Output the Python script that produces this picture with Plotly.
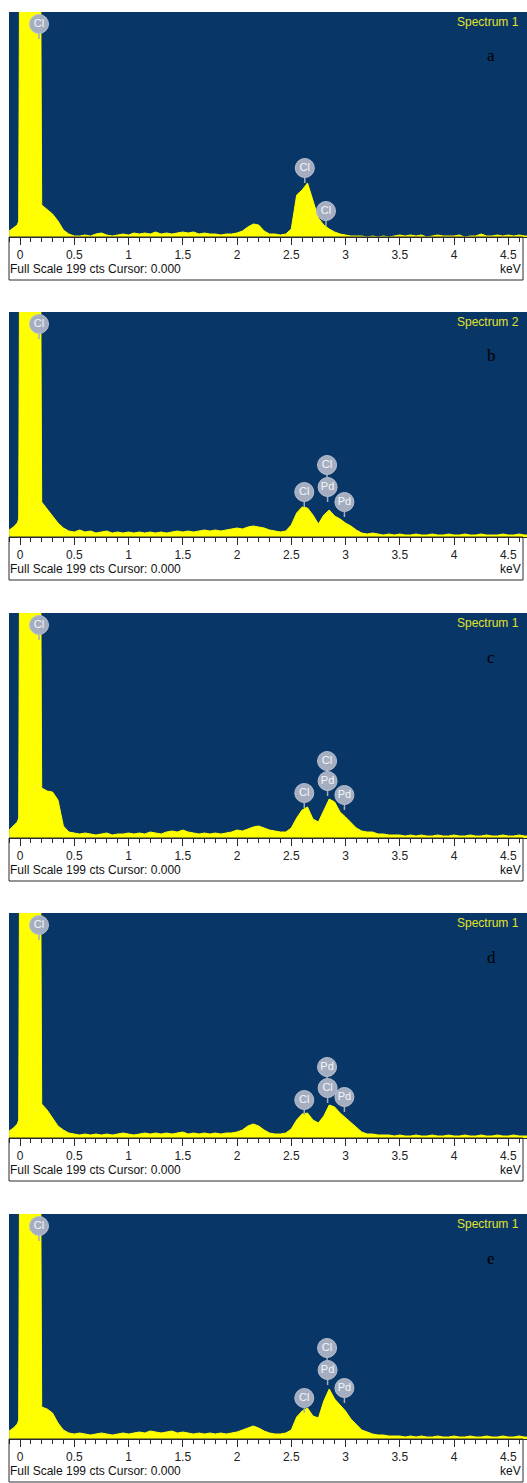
import plotly.graph_objects as go

# channel energies (keV): fine steps around the saturated low-energy peak, then 0.05 keV
energy_kev = [-0.1, -0.06, -0.025, -0.012, 0.0, 0.05, 0.1, 0.15, 0.185] + \
    [round(0.2 + 0.05 * i, 3) for i in range(91)]

counts_a = [6, 9, 12, 16, 400, 400, 400, 400, 400,
            32, 27, 23, 16, 7, 3, 1, 1, 2, 1, 3,
            4, 2, 1, 2, 3, 2, 4, 3, 4, 3,
            5, 3, 4, 3, 4, 5, 4, 5, 3, 4,
            3, 3, 2, 3, 3, 4, 6, 10, 13, 12,
            6, 3, 3, 2, 3, 8, 42, 47, 54, 36,
            19, 12, 8, 5, 3, 2, 1, 1, 1, 0,
            1, 0, 1, 0, 1, 2, 1, 2, 1, 2,
            0, 1, 2, 1, 1, 1, 2, 0, 1, 1,
            3, 1, 1, 2, 1, 2, 1, 2, 1, 1]

counts_b = [7, 10, 14, 18, 400, 400, 400, 400, 400,
            35, 28, 22, 14, 9, 6, 5, 7, 5, 6, 4,
            5, 6, 4, 5, 4, 5, 4, 5, 4, 5,
            4, 5, 4, 5, 6, 5, 6, 5, 6, 7,
            6, 7, 6, 7, 8, 9, 8, 10, 11, 10,
            9, 7, 6, 5, 6, 12, 24, 30, 29, 22,
            13, 22, 27, 21, 18, 14, 11, 7, 4, 3,
            4, 3, 2, 3, 2, 3, 2, 2, 3, 2,
            2, 3, 2, 2, 3, 2, 2, 3, 2, 2,
            3, 2, 2, 2, 3, 2, 2, 3, 2, 2]

counts_c = [8, 12, 16, 20, 400, 400, 400, 400, 400,
            50, 47, 46, 38, 12, 6, 5, 4, 5, 4, 3,
            4, 5, 3, 4, 4, 5, 4, 5, 4, 6,
            5, 4, 6, 7, 6, 8, 6, 5, 4, 5,
            4, 5, 4, 5, 6, 8, 7, 9, 11, 12,
            10, 8, 7, 6, 6, 10, 20, 28, 31, 19,
            16, 28, 39, 36, 26, 21, 15, 10, 7, 6,
            6, 4, 4, 3, 3, 3, 2, 3, 2, 3,
            2, 2, 3, 2, 2, 3, 2, 2, 3, 2,
            2, 3, 2, 2, 3, 2, 2, 3, 2, 2]

counts_d = [7, 10, 14, 18, 400, 400, 400, 400, 400,
            34, 28, 20, 12, 8, 5, 4, 3, 4, 3, 4,
            3, 4, 3, 4, 5, 4, 3, 4, 5, 4,
            5, 4, 5, 4, 5, 6, 4, 5, 4, 5,
            4, 5, 4, 5, 5, 6, 8, 12, 14, 12,
            8, 5, 4, 4, 5, 9, 18, 24, 25, 18,
            15, 22, 33, 31, 25, 20, 15, 10, 6, 4,
            4, 3, 3, 3, 2, 3, 2, 2, 3, 2,
            2, 3, 2, 2, 3, 2, 2, 3, 2, 2,
            3, 2, 2, 3, 2, 2, 3, 2, 2, 2]

counts_e = [8, 11, 15, 19, 400, 400, 400, 400, 400,
            32, 30, 26, 16, 9, 6, 5, 6, 5, 4, 5,
            6, 5, 4, 5, 6, 5, 6, 7, 6, 8,
            7, 6, 7, 8, 6, 7, 6, 5, 6, 5,
            6, 5, 6, 5, 6, 7, 9, 11, 13, 11,
            8, 6, 5, 5, 6, 9, 22, 28, 31, 23,
            21, 38, 50, 40, 34, 28, 20, 14, 9, 7,
            5, 4, 4, 3, 3, 3, 2, 3, 2, 3,
            2, 2, 3, 2, 2, 3, 2, 2, 3, 2,
            2, 3, 2, 2, 3, 2, 2, 3, 2, 2]

# element marker badges: (label, energy keV, badge height)
badges_a = [("Cl", 0.175, 213), ("Cl", 2.625, 69), ("Cl", 2.82, 26)]
badges_b = [("Cl", 0.175, 213), ("Cl", 2.62, 45), ("Cl", 2.83, 72), ("Pd", 2.835, 50), ("Pd", 2.99, 35)]
badges_c = [("Cl", 0.175, 213), ("Cl", 2.62, 45), ("Cl", 2.83, 77), ("Pd", 2.835, 57), ("Pd", 2.99, 43)]
badges_d = [("Cl", 0.175, 213), ("Cl", 2.62, 38), ("Pd", 2.83, 71), ("Cl", 2.835, 50), ("Pd", 2.99, 41)]
badges_e = [("Cl", 0.175, 213), ("Cl", 2.62, 41), ("Cl", 2.83, 91), ("Pd", 2.835, 69), ("Pd", 2.99, 51)]

spectrum_names = ["Spectrum 1", "Spectrum 2", "Spectrum 1", "Spectrum 1", "Spectrum 1"]
panel_letters = ["a", "b", "c", "d", "e"]
footer_text = "Full Scale 199 cts Cursor: 0.000"
unit_text = "keV"

all_counts = [counts_a, counts_b, counts_c, counts_d, counts_e]
all_badges = [badges_a, badges_b, badges_c, badges_d, badges_e]
for c in all_counts:
    assert len(c) == len(energy_kev)

W, H = 527, 1483
panel_tops = [12, 312, 613, 913, 1214]
PLOT_H = 225
BOX_H = 43
X_LEFT, X_RIGHT, BOX_RIGHT = 9, 527, 523
ZERO_PX, PX_PER_KEV = 20, 108.5
x_range = [(X_LEFT - ZERO_PX) / PX_PER_KEV, (X_RIGHT - ZERO_PX) / PX_PER_KEV]

BG = "#083666"
YEL = "#ffff00"
BADGE = "#a4aec0"
DARK = "#2a2a35"

fig = go.Figure()
shapes, annotations = [], []

for k in range(5):
    t = panel_tops[k]
    xa = "x" if k == 0 else f"x{k+1}"
    ya = "y" if k == 0 else f"y{k+1}"
    fig.add_trace(go.Scatter(x=energy_kev, y=all_counts[k], mode="lines",
                             fill="tozeroy", fillcolor=YEL,
                             line=dict(color=YEL, width=1),
                             xaxis=xa, yaxis=ya, hoverinfo="skip"))
    # stems
    sx, sy = [], []
    for lab, e, h in all_badges[k]:
        sx += [e, e, None]
        sy += [h - 8, h - 15, None]
    fig.add_trace(go.Scatter(x=sx, y=sy, mode="lines", line=dict(color=BADGE, width=1.5),
                             xaxis=xa, yaxis=ya, hoverinfo="skip"))
    fig.add_trace(go.Scatter(x=[b[1] for b in all_badges[k]], y=[b[2] for b in all_badges[k]],
                             mode="markers+text", text=[b[0] for b in all_badges[k]],
                             textposition="middle center",
                             textfont=dict(family="Liberation Sans", size=11, color="#f4f6fa"),
                             marker=dict(size=19, color=BADGE, line=dict(color="#b8c0cf", width=1)),
                             xaxis=xa, yaxis=ya, hoverinfo="skip", cliponaxis=False))

    dom_y = [1 - (t + PLOT_H) / H, 1 - t / H]
    fig.layout[("xaxis" if k == 0 else f"xaxis{k+1}")] = dict(
        domain=[X_LEFT / W, X_RIGHT / W], range=x_range, anchor=ya,
        tick0=0, dtick=0.5, ticks="outside", ticklen=7, tickwidth=1, tickcolor=DARK,
        minor=dict(tick0=0, dtick=0.1, ticks="outside", ticklen=4, tickcolor=DARK, showgrid=False),
        showline=True, linecolor=DARK, linewidth=1,
        zeroline=True, zerolinecolor="#101010", zerolinewidth=1,
        showgrid=False, layer="above traces", fixedrange=True,
        tickfont=dict(family="Liberation Sans", size=12, color="#222222"))
    fig.layout[("yaxis" if k == 0 else f"yaxis{k+1}")] = dict(
        domain=dom_y, range=[0, PLOT_H], anchor=xa, visible=False, fixedrange=True)

    # white axis box border
    shapes.append(dict(type="rect", xref="paper", yref="paper",
                       x0=X_LEFT / W, x1=BOX_RIGHT / W,
                       y0=1 - (t + PLOT_H + BOX_H) / H, y1=1 - (t + PLOT_H) / H,
                       line=dict(color=DARK, width=1), fillcolor="rgba(0,0,0,0)", layer="above"))
    annotations.append(dict(text=spectrum_names[k], xref="paper", yref="paper",
                            x=521 / W, y=1 - (t + 10) / H, xanchor="right", yanchor="middle",
                            showarrow=False, font=dict(family="Liberation Sans", size=12, color="#e2e22c")))
    annotations.append(dict(text=panel_letters[k], xref="paper", yref="paper",
                            x=491 / W, y=1 - (t + 44) / H, xanchor="center", yanchor="middle",
                            showarrow=False, font=dict(family="Liberation Serif", size=17, color="#000000")))
    annotations.append(dict(text=footer_text, xref="paper", yref="paper",
                            x=8 / W, y=1 - (t + 257) / H, xanchor="left", yanchor="middle",
                            showarrow=False, font=dict(family="Liberation Sans", size=12, color="#111111")))
    annotations.append(dict(text=unit_text, xref="paper", yref="paper",
                            x=523 / W, y=1 - (t + 257) / H, xanchor="right", yanchor="middle",
                            showarrow=False, font=dict(family="Liberation Sans", size=12, color="#111111")))

fig.update_layout(width=W, height=H, margin=dict(l=0, r=0, t=0, b=0),
                  paper_bgcolor="white", plot_bgcolor=BG, showlegend=False,
                  shapes=shapes, annotations=annotations)
fig.write_html("out.html")
